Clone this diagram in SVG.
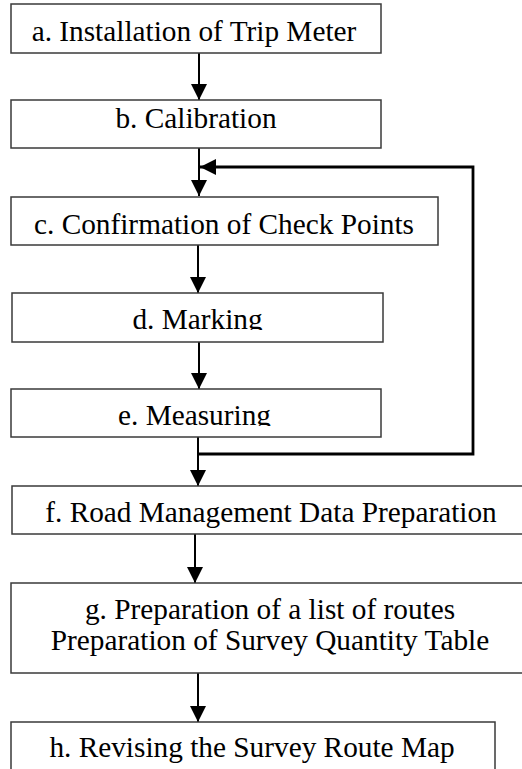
<svg xmlns="http://www.w3.org/2000/svg" width="522" height="769" viewBox="0 0 522 769">
  <style>
    .box { fill: #ffffff; stroke: #3a3a3a; stroke-width: 1.5; }
    text { font-family: 'Liberation Serif', 'Times New Roman', Times, serif; font-size: 29.3px; fill: #000000; text-anchor: middle; }
    .flow { fill: none; stroke: #000000; stroke-width: 2; }
    .loop { fill: none; stroke: #000000; stroke-width: 2.8; }
  </style>
  <defs>
    <marker id="head" markerUnits="userSpaceOnUse" markerWidth="16" markerHeight="16" viewBox="0 0 14 14" refX="14" refY="7" orient="auto">
      <path d="M0,0 L14,7 L0,14 Z" fill="#000000"/>
    </marker>
    <clipPath id="clipD"><rect x="12" y="293" width="371" height="37"/></clipPath>
    <clipPath id="clipE"><rect x="11" y="389" width="370" height="37"/></clipPath>
  </defs>
  <rect width="522" height="769" fill="#ffffff"/>

  <g id="connectors">
    <line class="flow" x1="199" y1="53" x2="199" y2="100" marker-end="url(#head)"/>
    <line class="flow" x1="199" y1="148" x2="199" y2="196" marker-end="url(#head)"/>
    <line class="flow" x1="198" y1="245" x2="198" y2="293" marker-end="url(#head)"/>
    <line class="flow" x1="199" y1="342" x2="199" y2="389" marker-end="url(#head)"/>
    <line class="flow" x1="198" y1="437" x2="198" y2="486" marker-end="url(#head)"/>
    <line class="flow" x1="195" y1="534" x2="195" y2="583" marker-end="url(#head)"/>
    <line class="flow" x1="198" y1="673" x2="198" y2="722" marker-end="url(#head)"/>
    <!-- return loop from after measuring back above check points -->
    <path class="loop" d="M198,454 H473 V167 H200" marker-end="url(#head)"/>
  </g>

  <g id="node-a">
    <rect class="box" x="11" y="4" width="370" height="49"/>
    <text x="194" y="41">a. Installation of Trip Meter</text>
  </g>
  <g id="node-b">
    <rect class="box" x="11" y="100" width="370" height="48"/>
    <text x="196" y="128">b. Calibration</text>
  </g>
  <g id="node-c">
    <rect class="box" x="11" y="197" width="427" height="48"/>
    <text x="224" y="234">c. Confirmation of Check Points</text>
  </g>
  <g id="node-d">
    <rect class="box" x="12" y="293" width="371" height="49"/>
    <text x="197.5" y="329" clip-path="url(#clipD)">d. Marking</text>
  </g>
  <g id="node-e">
    <rect class="box" x="11" y="389" width="370" height="48"/>
    <text x="194.5" y="425" clip-path="url(#clipE)">e. Measuring</text>
  </g>
  <g id="node-f">
    <rect class="box" x="12" y="486" width="520" height="48"/>
    <text x="271" y="522">f. Road Management Data Preparation</text>
  </g>
  <g id="node-g">
    <rect class="box" x="11" y="583" width="521" height="90"/>
    <text x="270" y="619">g. Preparation of a list of routes</text>
    <text x="270" y="650">Preparation of Survey Quantity Table</text>
  </g>
  <g id="node-h">
    <rect class="box" x="11" y="722" width="484" height="60"/>
    <text x="252" y="757">h. Revising the Survey Route Map</text>
  </g>
</svg>
